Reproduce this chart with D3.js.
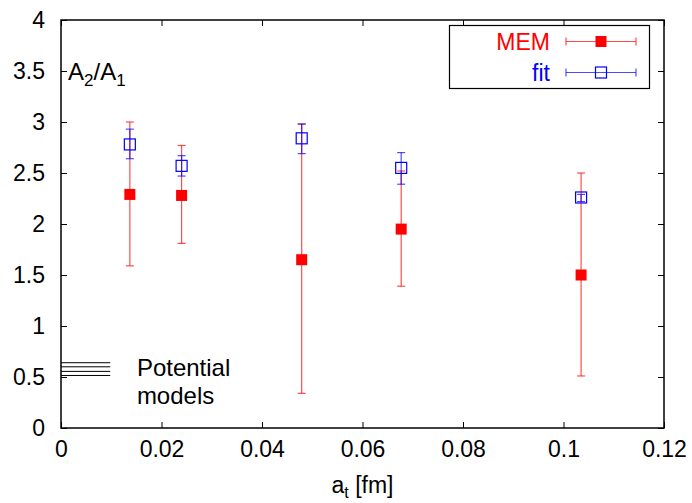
<!DOCTYPE html>
<html>
<head>
<meta charset="utf-8">
<script src="https://cdn.jsdelivr.net/npm/d3@7"></script>
<style>
  body { margin: 0; background: #fff; }
  svg text { font-family: "Liberation Sans", Arial, sans-serif; }
</style>
</head>
<body>
<div id="chart"></div>
<script>
// lattice spacings (fm)
var spacings = [0.0137, 0.024, 0.0479, 0.0677, 0.1035];

// MEM points: value, lower, upper
var memValue = [2.29, 2.28, 1.65, 1.95, 1.50];
var memLow   = [1.59, 1.81, 0.34, 1.39, 0.51];
var memHigh  = [3.00, 2.77, 2.98, 2.52, 2.50];

// fit points
var fitValue = [2.78, 2.57, 2.84, 2.55, 2.26];
var fitLow   = [2.64, 2.47, 2.69, 2.39, 2.22];
var fitHigh  = [2.93, 2.67, 2.98, 2.70, 2.29];

// potential model lines near x=0
var potentialModels = [0.64, 0.60, 0.555, 0.515];

var xTicks = [0, 0.02, 0.04, 0.06, 0.08, 0.1, 0.12];
var yTicks = [0, 0.5, 1, 1.5, 2, 2.5, 3, 3.5, 4];

var width = 692, height = 503;
var margin = {top: 20, right: 28, bottom: 75, left: 61};

var x = d3.scaleLinear().domain([0, 0.12]).range([margin.left, width - margin.right]);
var y = d3.scaleLinear().domain([0, 4]).range([height - margin.bottom, margin.top]);

var svg = d3.select("#chart").append("svg")
            .attr("width", width)
            .attr("height", height);

var fontSize = 23;

// axes, ticks pointing inwards
svg.append("g")
   .attr("transform", "translate(0," + y(0) + ")")
   .call(d3.axisBottom(x).tickValues(xTicks).tickSize(-6).tickPadding(13)
           .tickFormat(function(d) { return d3.format("")(+d.toFixed(2)); }));
svg.append("g")
   .attr("transform", "translate(0," + y(4) + ")")
   .call(d3.axisTop(x).tickValues(xTicks).tickSize(-6).tickFormat(""));
svg.append("g")
   .attr("transform", "translate(" + x(0) + ",0)")
   .call(d3.axisLeft(y).tickValues(yTicks).tickSize(-6).tickPadding(16)
           .tickFormat(function(d) { return d3.format("")(d); }));
svg.append("g")
   .attr("transform", "translate(" + x(0.12) + ",0)")
   .call(d3.axisRight(y).tickValues(yTicks).tickSize(-6).tickFormat(""));

svg.selectAll(".domain").remove();
svg.selectAll(".tick line").attr("stroke", "#000").attr("stroke-width", 1);
svg.selectAll(".tick text")
   .attr("font-size", fontSize)
   .attr("font-family", "Liberation Sans, Arial, sans-serif")
   .attr("fill", "#000");

// frame
svg.append("rect")
   .attr("x", x(0))
   .attr("y", y(4))
   .attr("width", x(0.12) - x(0))
   .attr("height", y(0) - y(4))
   .attr("fill", "none")
   .attr("stroke", "#000")
   .attr("stroke-width", 1.5);

// potential model lines
svg.append("g").selectAll("line")
   .data(potentialModels)
   .enter().append("line")
   .attr("x1", x(0))
   .attr("x2", x(0.0098))
   .attr("y1", function(d) { return y(d); })
   .attr("y2", function(d) { return y(d); })
   .attr("stroke", "#000")
   .attr("stroke-width", 1);

svg.append("text")
   .attr("x", x(0.0151))
   .attr("y", y(0.51))
   .attr("font-size", 24)
   .text("Potential");
svg.append("text")
   .attr("x", x(0.0151))
   .attr("y", y(0.24))
   .attr("font-size", 24)
   .text("models");

// y label A2/A1
var yLabel = svg.append("text")
                .attr("x", 68)
                .attr("y", 80)
                .attr("font-size", 24);
yLabel.append("tspan").text("A");
yLabel.append("tspan").attr("font-size", 17).attr("dy", 6).text("2");
yLabel.append("tspan").attr("dy", -6).text("/A");
yLabel.append("tspan").attr("font-size", 17).attr("dy", 6).text("1");

// x label a_t [fm]
var xLabel = svg.append("text")
                .attr("x", x(0.06))
                .attr("y", 493)
                .attr("text-anchor", "middle")
                .attr("font-size", fontSize);
xLabel.append("tspan").text("a");
xLabel.append("tspan").attr("font-size", 16).attr("dy", 5).text("t");
xLabel.append("tspan").attr("dy", -5).text(" [fm]");

var capW = 4, box = 11;

function errorBars(g, xs, lows, highs, color) {
    var data = xs.map(function(d, i) { return {x: d, lo: lows[i], hi: highs[i]}; });
    var grp = g.append("g").attr("stroke", color).attr("stroke-width", 1.2).attr("stroke-opacity", 0.7);
    grp.selectAll(".bar").data(data).enter().append("line")
       .attr("x1", function(d) { return x(d.x); })
       .attr("x2", function(d) { return x(d.x); })
       .attr("y1", function(d) { return y(d.lo); })
       .attr("y2", function(d) { return y(d.hi); });
    grp.selectAll(".caplo").data(data).enter().append("line")
       .attr("x1", function(d) { return x(d.x) - capW; })
       .attr("x2", function(d) { return x(d.x) + capW; })
       .attr("y1", function(d) { return y(d.lo); })
       .attr("y2", function(d) { return y(d.lo); });
    grp.selectAll(".caphi").data(data).enter().append("line")
       .attr("x1", function(d) { return x(d.x) - capW; })
       .attr("x2", function(d) { return x(d.x) + capW; })
       .attr("y1", function(d) { return y(d.hi); })
       .attr("y2", function(d) { return y(d.hi); });
}

var plot = svg.append("g");

// MEM
errorBars(plot, spacings, memLow, memHigh, "#ff0000");
plot.append("g").selectAll("rect")
    .data(memValue)
    .enter().append("rect")
    .attr("x", function(d, i) { return x(spacings[i]) - box / 2; })
    .attr("y", function(d) { return y(d) - box / 2; })
    .attr("width", box)
    .attr("height", box)
    .attr("fill", "#ff0000");

// fit
errorBars(plot, spacings, fitLow, fitHigh, "#0000ff");
plot.append("g").selectAll("rect")
    .data(fitValue)
    .enter().append("rect")
    .attr("x", function(d, i) { return x(spacings[i]) - box / 2; })
    .attr("y", function(d) { return y(d) - box / 2; })
    .attr("width", box)
    .attr("height", box)
    .attr("fill", "none")
    .attr("stroke", "#0000ff")
    .attr("stroke-width", 1.2);

// legend
var legend = svg.append("g");
legend.append("rect")
      .attr("x", 449.5)
      .attr("y", 25.5)
      .attr("width", 200)
      .attr("height", 63)
      .attr("fill", "#fff")
      .attr("stroke", "#000")
      .attr("stroke-width", 1.2);

var legendItems = [
    {label: "MEM", color: "#ff0000", filled: true, yy: 41.5},
    {label: "fit", color: "#0000ff", filled: false, yy: 72.5}
];
legendItems.forEach(function(it) {
    legend.append("text")
          .attr("x", 550)
          .attr("y", it.yy + 8)
          .attr("text-anchor", "end")
          .attr("font-size", 23)
          .attr("fill", it.color)
          .text(it.label);
    var lg = legend.append("g").attr("stroke", it.color).attr("stroke-opacity", 0.7).attr("stroke-width", 1.2);
    lg.append("line").attr("x1", 566).attr("x2", 636).attr("y1", it.yy).attr("y2", it.yy);
    lg.append("line").attr("x1", 566).attr("x2", 566).attr("y1", it.yy - capW).attr("y2", it.yy + capW);
    lg.append("line").attr("x1", 636).attr("x2", 636).attr("y1", it.yy - capW).attr("y2", it.yy + capW);
    legend.append("rect")
          .attr("x", 601 - box / 2)
          .attr("y", it.yy - box / 2)
          .attr("width", box)
          .attr("height", box)
          .attr("fill", it.filled ? it.color : "none")
          .attr("stroke", it.filled ? "none" : it.color)
          .attr("stroke-width", 1.2);
});
</script>
</body>
</html>
